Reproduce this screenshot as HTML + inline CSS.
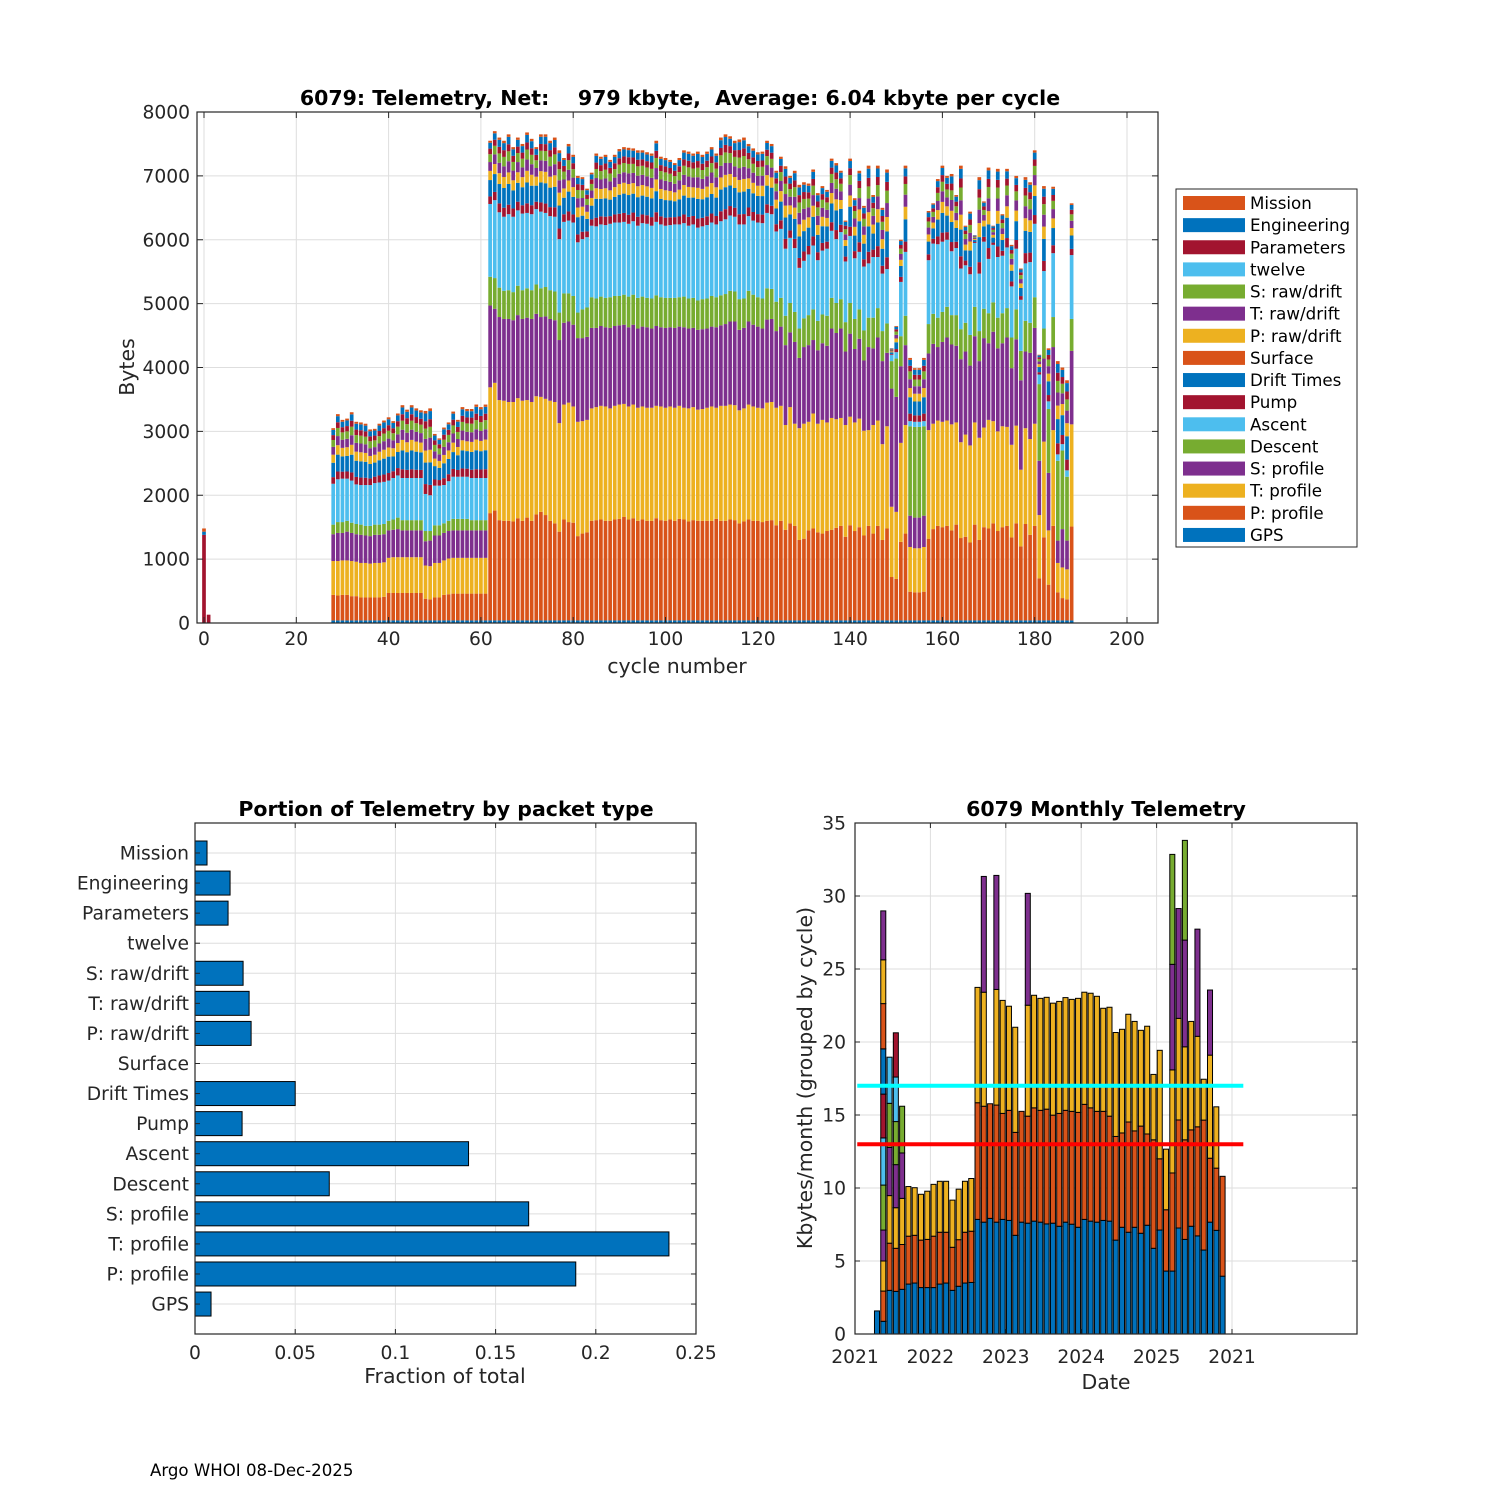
<!DOCTYPE html>
<html><head><meta charset="utf-8">
<style>
html,body{margin:0;padding:0;background:#fff;}
svg{display:block;font-family:"DejaVu Sans","Liberation Sans",sans-serif;}
</style></head>
<body>
<svg id="fig" width="1500" height="1500" viewBox="0 0 1500 1500" xmlns="http://www.w3.org/2000/svg">
<rect x="0" y="0" width="1500" height="1500" fill="#fff"/>
<g id="top"></g>
<g id="bl"></g>
<g id="br"></g>
<text x="150" y="1476" font-size="16.6" fill="#000">Argo WHOI 08-Dec-2025</text>
</svg>
<script>
// ---------------- TOP CHART DATA ----------------
const cycleStart = 28;
const cycleEnd = 188;
const earlyCycles = [0, 1];
const earlyPump = [1380, 130];
const earlyDrift = [50, 0];
const earlyMission = [50, 0];
const gpsBytes = 40;
const ppVals = [440,430,440,440,420,420,400,400,400,400,400,410,470,470,470,470,470,470,470,470,380,370,400,400,440,450,460,460,460,460,460,460,460,460,
1720,1760,1610,1600,1600,1590,1640,1600,1650,1600,
1700,1740,1690,1600,1560,1430,1620,1580,1570,1360,
1400,1420,1600,1610,1620,1600,1600,1620,1630,1660,
1620,1640,1600,1620,1600,1600,1640,1610,1600,1620,
1600,1630,1620,1590,1610,1600,1600,1600,1600,1630,
1600,1600,1620,1610,1560,1590,1620,1600,1600,1580,
1600,1610,1530,1600,1460,1560,1520,1300,1320,1450,
1480,1420,1400,1440,1460,1490,1520,1350,1530,1440,
1500,1370,1520,1400,1520,1300,1480,720,690,1270,
1400,490,480,480,490,1320,1470,1520,1500,1520,
1450,1540,1330,1350,1260,1540,1300,1500,1480,1560,
1440,1500,1520,1340,1560,1200,1550,1380,1520,700,
1340,600,1520,480,390,370,1510];
const tpVals = [530,540,540,540,550,540,540,540,530,540,540,540,550,560,560,560,560,560,560,560,520,520,540,540,540,560,560,560,560,560,560,560,560,560,
1970,2000,1880,1880,1860,1870,1880,1880,1840,1860,
1850,1800,1820,1880,1900,1700,1800,1870,1820,1790,
1760,1760,1760,1770,1780,1790,1760,1780,1790,1770,
1770,1780,1770,1770,1770,1770,1760,1780,1770,1770,
1770,1770,1750,1770,1770,1740,1750,1770,1790,1740,
1800,1800,1800,1800,1770,1770,1800,1790,1770,1780,
1850,1850,1840,1800,1640,1820,1600,1750,1800,1700,
1800,1700,1780,1700,1750,1700,1690,1750,1700,1700,
1700,1640,1500,1700,1650,1500,1600,1100,1050,1550,
1700,700,690,690,700,1700,1650,1650,1650,1650,
1660,1600,1500,1600,1520,1600,1600,1560,1700,1600,
1560,1580,1550,1450,1530,1200,1500,1500,1600,990,
1500,850,1500,460,480,470,1600];
const spVals = [420,440,430,450,440,430,440,430,430,440,440,440,430,430,440,420,420,420,420,420,380,400,430,430,430,430,430,430,430,430,430,430,430,430,
1280,1160,1300,1280,1300,1280,1300,1280,1290,1300,
1290,1250,1290,1280,1280,1300,1280,1270,1280,1310,
1300,1300,1260,1240,1250,1240,1260,1250,1240,1240,
1240,1250,1240,1250,1260,1240,1250,1240,1250,1240,
1250,1240,1260,1250,1240,1250,1250,1240,1250,1260,
1260,1280,1300,1310,1260,1260,1300,1280,1270,1250,
1300,1300,1200,1240,1250,1170,1280,1100,1200,1200,
1150,1150,1200,1200,1400,1350,1400,1150,1300,1150,
1250,1100,1300,1200,1300,1300,1150,1850,1800,1200,
1250,490,480,480,490,1200,1250,1150,1250,1300,
1250,1200,1300,1300,1250,1350,1200,1400,1200,1400,
1300,1300,1400,1200,1350,1400,1200,1350,1500,850,
1300,900,1300,350,600,450,1150];
const descVals = [150,170,170,170,160,160,160,150,160,160,160,160,150,160,180,160,160,160,160,160,160,150,160,160,150,160,180,180,180,180,160,160,160,160,
450,480,460,440,450,440,460,450,460,450,
460,450,460,450,450,430,460,440,450,400,
450,460,480,460,460,460,480,470,460,470,
480,470,480,470,460,470,480,470,470,460,
470,460,480,470,470,460,470,470,480,470,
470,470,480,470,480,460,480,470,460,470,
490,470,460,450,460,460,470,460,450,470,
480,460,450,470,480,470,460,460,480,470,
460,470,460,480,460,470,460,430,600,470,
460,1400,1420,1420,1400,460,470,460,470,480,
460,480,470,450,480,460,470,460,470,460,
480,470,460,480,470,460,480,470,480,1200,
470,1000,470,1250,1230,1000,500];
const ascVals = [640,670,680,660,660,620,620,640,640,650,660,660,630,650,660,660,660,660,660,660,580,560,620,620,600,620,660,660,660,660,660,660,660,660,
1140,1220,1180,1160,1190,1180,1180,1200,1180,1190,
1180,1200,1160,1160,1170,1150,1120,1140,1150,1100,
1100,1100,1120,1130,1130,1140,1150,1150,1150,1140,
1140,1150,1130,1150,1160,1140,1150,1140,1130,1140,
1150,1140,1150,1140,1150,1140,1140,1150,1150,1140,
1160,1170,1180,1170,1170,1160,1170,1160,1170,1180,
1180,1170,1100,1080,1050,1020,1000,950,900,950,
1000,950,1000,1050,1050,1000,1050,950,1050,950,
900,1000,850,950,800,900,850,100,100,850,
1000,80,80,80,80,1000,1100,1150,1100,1050,
1000,1050,950,900,950,1000,900,1050,850,900,
950,900,950,800,950,800,900,950,1150,150,
900,120,1000,100,100,100,1000];
const totalVals = [3050,3270,3180,3200,3300,3150,3140,3120,3030,3040,3120,3170,3220,3160,3280,3410,3340,3410,3360,3330,3320,3360,2960,2890,3060,3140,3310,3180,3380,3350,3350,3420,3380,3420,
7550,7700,7600,7550,7650,7450,7600,7500,7680,7580,
7450,7650,7650,7550,7600,7400,7280,7500,7330,7000,
6980,6800,7050,7350,7300,7330,7250,7330,7420,7450,
7440,7430,7400,7400,7370,7350,7550,7300,7280,7250,
7200,7280,7400,7380,7350,7380,7330,7380,7450,7350,
7600,7650,7620,7550,7570,7600,7500,7430,7370,7380,
7550,7500,7080,7300,7150,7000,7080,6860,6900,6880,
7100,6730,6840,6780,7270,7200,7080,6300,7270,6650,
7080,6530,7160,6700,7160,6500,7100,4300,4650,6000,
7160,4150,3990,3990,4150,6450,6570,6950,7160,7000,
7030,6700,7160,6220,6440,6070,6980,6600,7130,6220,
7110,6400,7110,5920,7000,5550,6980,6900,7400,4200,
6840,4300,6830,4100,4000,3800,6570];
const restNames = ['Pump','Drift Times','Surface','P: raw/drift','T: raw/drift','S: raw/drift','twelve','Parameters','Engineering','Mission'];
const restShares = [0.023,0.050,0.0,0.028,0.027,0.024,0.0,0.017,0.018,0.006];
const yTicksTop = [0,1000,2000,3000,4000,5000,6000,7000,8000];
const xTicksTop = [0,20,40,60,80,100,120,140,160,180,200];
const legendNames = ['Mission','Engineering','Parameters','twelve','S: raw/drift','T: raw/drift','P: raw/drift','Surface','Drift Times','Pump','Ascent','Descent','S: profile','T: profile','P: profile','GPS'];

// ---------------- BOTTOM LEFT DATA ----------------
const packetTypes = ['Mission','Engineering','Parameters','twelve','S: raw/drift','T: raw/drift','P: raw/drift','Surface','Drift Times','Pump','Ascent','Descent','S: profile','T: profile','P: profile','GPS'];
const packetFractions = [0.006,0.0175,0.0165,0,0.024,0.027,0.028,0,0.050,0.0235,0.1365,0.067,0.1665,0.2365,0.190,0.008];
const fracTicks = [0,0.05,0.1,0.15,0.2,0.25];
const fracTickLabels = ['0','0.05','0.1','0.15','0.2','0.25'];

// ---------------- BOTTOM RIGHT DATA ----------------
const monthStartYear = 2021;
const monthStartIndex = 3; // April 2021
const monthSegments = [
[1.58],
[0.87,2.07,2.06,2.12,3.08,3.23,3.0,3.1,3.1,3.0,3.35],
[2.99,3.23,3.26,3.3,3.02,3.16],
[2.92,2.95,2.78,2.95,2.95,3.05,3.03],
[3.06,3.07,3.16,3.11,3.2],
[3.42,3.28,3.4],[3.49,3.27,3.26],[3.18,3.25,3.14],[3.18,3.3,3.3],[3.18,3.52,3.55],
[3.42,3.55,3.49],[3.49,3.48,3.49],[2.99,2.95,3.23],[3.27,3.19,3.46],[3.49,3.48,3.49],[3.53,3.51,3.61],
[7.85,7.99,7.9],[7.66,7.94,7.81,7.93],[7.92,7.85],[7.66,8.02,7.92,7.81],[7.85,7.26,7.74],
[7.78,7.54,7.13],[6.76,7.05,7.2],[7.66,7.59],[7.59,7.33,7.6,7.66],[7.73,7.76,7.71],
[7.66,7.66,7.67],[7.54,7.86,7.66],[7.59,7.4,7.67],[7.38,7.73,7.67],[7.66,7.66,7.72],
[7.52,7.73,7.67],[7.31,7.87,7.81],[7.85,7.88,7.68],[7.73,7.76,7.85],[7.66,7.59,7.88],
[7.78,7.47,7.06],[7.73,7.19,7.46],[6.43,7.1,7.12],[7.31,6.46,7.1],[6.97,7.55,7.38],
[7.31,6.6,7.5],[6.9,7.34,6.56],[7.45,6.25,7.38],[5.87,7.43,4.48],[7.12,4.88,7.43],
[4.31,4.2,4.15],[4.31,6.72,7.06,7.23,7.53],[7.26,7.4,6.96,7.52],[6.48,6.82,6.37,7.31,6.83],
[7.38,6.6,7.43],[6.72,7.47,6.2,7.34],[5.75,8.9,2.8],[7.66,4.38,7.06,4.46],[7.1,4.26,4.2],[3.96,6.84]
];
const avgLineCyan = 17;
const avgLineRed = 13;
const avgLineStart = 2021.03;
const avgLineEnd = 2026.15;
const kbTicks = [0,5,10,15,20,25,30,35];
const dateTicks = [2021,2022,2023,2024,2025,2026];
const dateTickLabels = ['2021','2022','2023','2024','2025','2021'];

// ---------------- HELPERS ----------------
const NS = 'http://www.w3.org/2000/svg';
const COL = {blue:'#0072BD',orange:'#D95319',yellow:'#EDB120',purple:'#7E2F8E',green:'#77AC30',lblue:'#4DBEEE',red:'#A2142F'};
const matlabOrder = [COL.blue,COL.orange,COL.yellow,COL.purple,COL.green,COL.lblue,COL.red];
function mk(parent, tag, attrs, text){
  const e = document.createElementNS(NS, tag);
  for (const k in attrs) e.setAttribute(k, attrs[k]);
  if (text !== undefined) e.textContent = text;
  parent.appendChild(e);
  return e;
}
const TXT = '#262626', GRID = '#dedede', AX = '#262626';
const TICKF = 18.7, TITLEF = 20.5, AXF = 20.5;

// ---------------- TOP CHART ----------------
(function(){
  const g = document.getElementById('top');
  const L=197, R=1158, T=112, B=623;
  const xs = c => 204 + c*4.615;
  const ys = v => B - v*(B-T)/8000;
  const bw = 4.615*0.8;
  yTicksTop.forEach(v=>{
    const l = mk(g,'line',{x1:L,x2:R,y1:ys(v),y2:ys(v),stroke:GRID,'stroke-width':1});
    
    
  });
  xTicksTop.forEach(v=>{
    const l = mk(g,'line',{x1:xs(v),x2:xs(v),y1:T,y2:B,stroke:GRID,'stroke-width':1});
    
    
  });
  const segColors = [COL.blue,COL.orange,COL.yellow,COL.purple,COL.green,COL.lblue];
  const restColors = [COL.red,COL.blue,COL.orange,COL.yellow,COL.purple,COL.green,COL.lblue,COL.red,COL.blue,COL.orange];
  function drawStack(c, vals, cols){
    let base = 0;
    const grp = mk(g,'g',{});
    
    
    vals.forEach((v,i)=>{
      if (v<=0) return;
      mk(grp,'rect',{x:xs(c)-bw/2,y:ys(base+v),width:bw,height:ys(base)-ys(base+v),fill:cols[i]});
      base += v;
    });
  }
  earlyCycles.forEach((c,i)=>{
    drawStack(c,[earlyPump[i],earlyDrift[i],earlyMission[i]],[COL.red,COL.blue,COL.orange]);
  });
  for (let i=0;i<=cycleEnd-cycleStart;i++){
    const c = cycleStart+i;
    const main = [gpsBytes, ppVals[i]-gpsBytes, tpVals[i], spVals[i], descVals[i], ascVals[i]];
    const sumMain = ppVals[i]+tpVals[i]+spVals[i]+descVals[i]+ascVals[i];
    const rest = Math.max(100, totalVals[i]-sumMain);
    const shareSum = restShares.reduce((a,b)=>a+b,0);
    const restVals = restShares.map(s=>rest*s/shareSum);
    drawStack(c, main.concat(restVals), segColors.concat(restColors));
  }
  mk(g,'rect',{x:L,y:T,width:R-L,height:B-T,fill:'none',stroke:AX,'stroke-width':1.2});
  yTicksTop.forEach(v=>{
    mk(g,'line',{x1:L,x2:L+6,y1:ys(v),y2:ys(v),stroke:AX});
    mk(g,'line',{x1:R,x2:R-6,y1:ys(v),y2:ys(v),stroke:AX});
    const t = mk(g,'text',{x:L-7,y:ys(v)+6.5,'text-anchor':'end','font-size':TICKF,fill:TXT},String(v));
    
    
  });
  xTicksTop.forEach(v=>{
    mk(g,'line',{x1:xs(v),x2:xs(v),y1:B,y2:B-6,stroke:AX});
    mk(g,'line',{x1:xs(v),x2:xs(v),y1:T,y2:T+6,stroke:AX});
    const t = mk(g,'text',{x:xs(v),y:B+22,'text-anchor':'middle','font-size':TICKF,fill:TXT},String(v));
    
    
  });
  const xl = mk(g,'text',{x:677,y:673,'text-anchor':'middle','font-size':AXF,fill:TXT},'cycle number');
   
  const yl = mk(g,'text',{x:0,y:0,'text-anchor':'middle','font-size':AXF,fill:TXT,transform:'translate(134,367) rotate(-90)'},'Bytes');
   
  const ti = mk(g,'text',{x:680,y:105,'text-anchor':'middle','font-size':TITLEF,'font-weight':'bold',fill:'#000','xml:space':'preserve',style:'white-space:pre'},'6079: Telemetry, Net:    979 kbyte,  Average: 6.04 kbyte per cycle');
   
  const lg = mk(g,'g',{});
   
  mk(lg,'rect',{x:1176,y:189,width:181,height:358,fill:'#fff',stroke:AX,'stroke-width':1});
  const legendColors = [COL.orange,COL.blue,COL.red,COL.lblue,COL.green,COL.purple,COL.yellow,COL.orange,COL.blue,COL.red,COL.lblue,COL.green,COL.purple,COL.yellow,COL.orange,COL.blue];
  legendNames.forEach((n,i)=>{
    const y = 203 + i*22.13;
    const e = mk(lg,'g',{});
     
    mk(e,'rect',{x:1183,y:y-7,width:62,height:14,fill:legendColors[i]});
    mk(e,'text',{x:1250,y:y+6,'font-size':16.7,fill:'#000'},n);
  });
})();

// ---------------- BOTTOM LEFT ----------------
(function(){
  const g = document.getElementById('bl');
  const L=195, R=696, T=823, B=1334;
  const xs = v => L + v*(R-L)/0.25;
  const yc = i => 853 + i*30.07;
  fracTicks.forEach(v=>{
    const l = mk(g,'line',{x1:xs(v),x2:xs(v),y1:T,y2:B,stroke:GRID});
     
  });
  packetTypes.forEach((n,i)=>{
    const l = mk(g,'line',{x1:L,x2:R,y1:yc(i),y2:yc(i),stroke:GRID});
     
  });
  packetTypes.forEach((n,i)=>{
    const v = packetFractions[i];
    if (v>0){
      const r = mk(g,'rect',{x:L,y:yc(i)-12,width:xs(v)-L,height:24,fill:COL.blue,stroke:'#000','stroke-width':1});
      
      
    }
    mk(g,'line',{x1:L,x2:L+5,y1:yc(i),y2:yc(i),stroke:AX});
    mk(g,'line',{x1:R,x2:R-5,y1:yc(i),y2:yc(i),stroke:AX});
    const t = mk(g,'text',{x:L-6,y:yc(i)+6.5,'text-anchor':'end','font-size':TICKF,fill:TXT},n);
     
  });
  mk(g,'rect',{x:L,y:T,width:R-L,height:B-T,fill:'none',stroke:AX,'stroke-width':1.2});
  fracTicks.forEach((v,i)=>{
    mk(g,'line',{x1:xs(v),x2:xs(v),y1:B,y2:B-5,stroke:AX});
    mk(g,'line',{x1:xs(v),x2:xs(v),y1:T,y2:T+5,stroke:AX});
    const t = mk(g,'text',{x:xs(v),y:B+25,'text-anchor':'middle','font-size':TICKF,fill:TXT},fracTickLabels[i]);
     
  });
  const xl = mk(g,'text',{x:445,y:1383,'text-anchor':'middle','font-size':AXF,fill:TXT},'Fraction of total');
   
  const ti = mk(g,'text',{x:446,y:816,'text-anchor':'middle','font-size':TITLEF,'font-weight':'bold',fill:'#000'},'Portion of Telemetry by packet type');
   
})();

// ---------------- BOTTOM RIGHT ----------------
(function(){
  const g = document.getElementById('br');
  const L=855, R=1357, T=823, B=1334;
  const xd = t => L + (t-2021)*75.4;
  const yk = v => B - v*(B-T)/35;
  kbTicks.forEach(v=>{
    const l = mk(g,'line',{x1:L,x2:R,y1:yk(v),y2:yk(v),stroke:GRID});
     
  });
  dateTicks.forEach(v=>{
    const l = mk(g,'line',{x1:xd(v),x2:xd(v),y1:T,y2:B,stroke:GRID});
     
  });
  const bw = 75.4/12*0.8;
  monthSegments.forEach((segs,m)=>{
    const t = monthStartYear + (monthStartIndex+m+0.5)/12;
    const grp = mk(g,'g',{});
    
    
    let base = 0;
    segs.forEach((v,i)=>{
      mk(grp,'rect',{x:xd(t)-bw/2,y:yk(base+v),width:bw,height:yk(base)-yk(base+v),fill:matlabOrder[i%7],stroke:'#000','stroke-width':1});
      base += v;
    });
  });
  const c = mk(g,'line',{x1:xd(avgLineStart),x2:xd(avgLineEnd),y1:yk(avgLineCyan),y2:yk(avgLineCyan),stroke:'#00FFFF','stroke-width':4});
   
  const r = mk(g,'line',{x1:xd(avgLineStart),x2:xd(avgLineEnd),y1:yk(avgLineRed),y2:yk(avgLineRed),stroke:'#FF0000','stroke-width':4});
   
  mk(g,'rect',{x:L,y:T,width:R-L,height:B-T,fill:'none',stroke:AX,'stroke-width':1.2});
  kbTicks.forEach(v=>{
    mk(g,'line',{x1:L,x2:L+5,y1:yk(v),y2:yk(v),stroke:AX});
    mk(g,'line',{x1:R,x2:R-5,y1:yk(v),y2:yk(v),stroke:AX});
    const t = mk(g,'text',{x:L-9,y:yk(v)+6.5,'text-anchor':'end','font-size':TICKF,fill:TXT},String(v));
     
  });
  dateTicks.forEach((v,i)=>{
    mk(g,'line',{x1:xd(v),x2:xd(v),y1:B,y2:B-5,stroke:AX});
    mk(g,'line',{x1:xd(v),x2:xd(v),y1:T,y2:T+5,stroke:AX});
    const t = mk(g,'text',{x:xd(v),y:B+29,'text-anchor':'middle','font-size':TICKF,fill:TXT},dateTickLabels[i]);
     
  });
  const xl = mk(g,'text',{x:1106,y:1389,'text-anchor':'middle','font-size':AXF,fill:TXT},'Date');
   
  const yl = mk(g,'text',{x:0,y:0,'text-anchor':'middle','font-size':AXF,fill:TXT,transform:'translate(812,1078) rotate(-90)'},'Kbytes/month (grouped by cycle)');
   
  const ti = mk(g,'text',{x:1106,y:816,'text-anchor':'middle','font-size':TITLEF,'font-weight':'bold',fill:'#000'},'6079 Monthly Telemetry');
   
})();
</script>
</body></html>
